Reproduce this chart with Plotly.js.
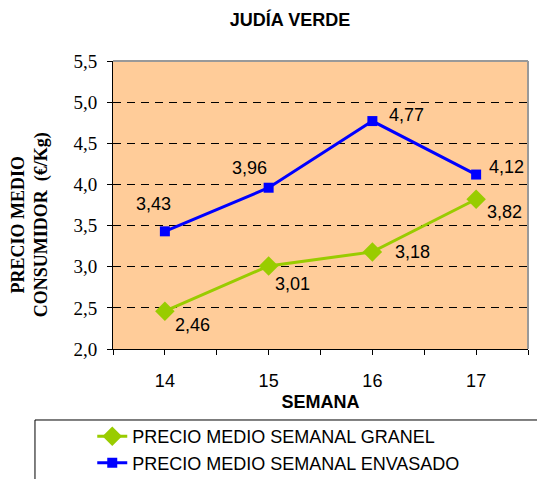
<!DOCTYPE html>
<html>
<head>
<meta charset="utf-8">
<script src="https://cdn.plot.ly/plotly-3.0.1.min.js"></script>
<style>html,body{margin:0;padding:0;background:#fff;}#chart{width:537px;height:479px;}</style>
</head>
<body>
<div id="chart"></div>
<script>
var semanas = [14, 15, 16, 17];
var granel = [2.46, 3.01, 3.18, 3.82];
var envasado = [3.43, 3.96, 4.77, 4.12];
var nombreGranel = 'PRECIO MEDIO SEMANAL GRANEL';
var nombreEnvasado = 'PRECIO MEDIO SEMANAL ENVASADO';
var yTicks = [2.0, 2.5, 3.0, 3.5, 4.0, 4.5, 5.0, 5.5];
var xTickVals = [13.5, 14, 14.5, 15, 15.5, 16, 16.5, 17, 17.5];
var xTickText = ['', '14', '', '15', '', '16', '', '17', ''];

var offG = [[28, -14], [24, -18], [40, 0], [28, -13]];
var offE = [[-11, 27], [-19, 20], [34, 6], [30, 8]];

function fmt(v) { return v.toFixed(2).replace('.', ','); }

var sans = 'Liberation Sans, Arial';
var serif = 'Liberation Serif, Times New Roman';

var traces = [
  {x: semanas, y: granel, name: nombreGranel, type: 'scatter', mode: 'lines+markers',
   line: {color: '#99CC00', width: 3}, marker: {symbol: 'diamond', size: 15, color: '#99CC00'}},
  {x: semanas, y: envasado, name: nombreEnvasado, type: 'scatter', mode: 'lines+markers',
   line: {color: '#0000FF', width: 3}, marker: {symbol: 'square', size: 10, color: '#0000FF'}}
];

var ann = [];
semanas.forEach(function (s, i) {
  ann.push({x: s, y: granel[i], text: fmt(granel[i]), showarrow: false, xshift: offG[i][0], yshift: offG[i][1],
    font: {family: sans, size: 18, color: '#000'}});
  ann.push({x: s, y: envasado[i], text: fmt(envasado[i]), showarrow: false, xshift: offE[i][0], yshift: offE[i][1],
    font: {family: sans, size: 18, color: '#000'}});
});
ann.push({xref: 'paper', yref: 'paper', x: -0.2, xanchor: 'center', y: 0.43, yanchor: 'middle',
  text: 'PRECIO MEDIO<br>CONSUMIDOR  (€/Kg)',
  textangle: -90, showarrow: false, font: {family: serif, size: 18, color: '#000', weight: 'bold'}});

var layout = {
  width: 537, height: 479,
  margin: {l: 113, r: 9, t: 61, b: 130, autoexpand: false},
  paper_bgcolor: '#FFFFFF', plot_bgcolor: '#FFCC99',
  separators: ',.',
  showlegend: true,
  title: {text: '<b>JUDÍA VERDE</b>', xref: 'container', x: 0.54, xanchor: 'center', yref: 'container', y: 0.958, yanchor: 'middle',
    font: {family: sans, size: 18, color: '#000'}},
  xaxis: {range: [13.5, 17.5], tickmode: 'array', tickvals: xTickVals, ticktext: xTickText,
    showgrid: false, zeroline: false, showline: true, linecolor: '#000', linewidth: 1,
    ticks: 'outside', ticklen: 5, tickcolor: '#000', ticklabelstandoff: 10, automargin: false,
    tickfont: {family: sans, size: 18, color: '#000'},
    title: {text: '<b>SEMANA</b>', standoff: 5, font: {family: sans, size: 18, color: '#000'}}},
  yaxis: {range: [2.0, 5.5], tickmode: 'array', tickvals: yTicks, tickformat: '.1f',
    showgrid: true, gridcolor: '#000', gridwidth: 1, griddash: '8px,6px', zeroline: false,
    showline: true, linecolor: '#000', linewidth: 1, ticks: 'outside', ticklen: 5, tickcolor: '#000',
    ticklabelstandoff: 6, automargin: false,
    tickfont: {family: serif, size: 19, color: '#000'}},
  shapes: [
    {type: 'line', xref: 'paper', yref: 'paper', x0: 0, x1: 1, y0: 1, y1: 1, line: {color: '#999999', width: 2}},
    {type: 'line', xref: 'paper', yref: 'paper', x0: 1, x1: 1, y0: 0, y1: 1, line: {color: '#999999', width: 2}},
    {type: 'line', xref: 'paper', yref: 'paper', x0: -0.188, x1: 1.05, y0: -0.2465, y1: -0.2465, line: {color: '#000', width: 1}},
    {type: 'line', xref: 'paper', yref: 'paper', x0: -0.188, x1: -0.188, y0: -0.2465, y1: -0.5, line: {color: '#000', width: 1}}
  ],
  legend: {x: -0.05, xanchor: 'left', y: -0.24, yanchor: 'top', bgcolor: 'rgba(0,0,0,0)', borderwidth: 0,
    font: {family: sans, size: 18, color: '#000'}, tracegroupgap: 0},
  annotations: ann
};

Plotly.newPlot('chart', traces, layout, {displayModeBar: false, staticPlot: true});
</script>
</body>
</html>
